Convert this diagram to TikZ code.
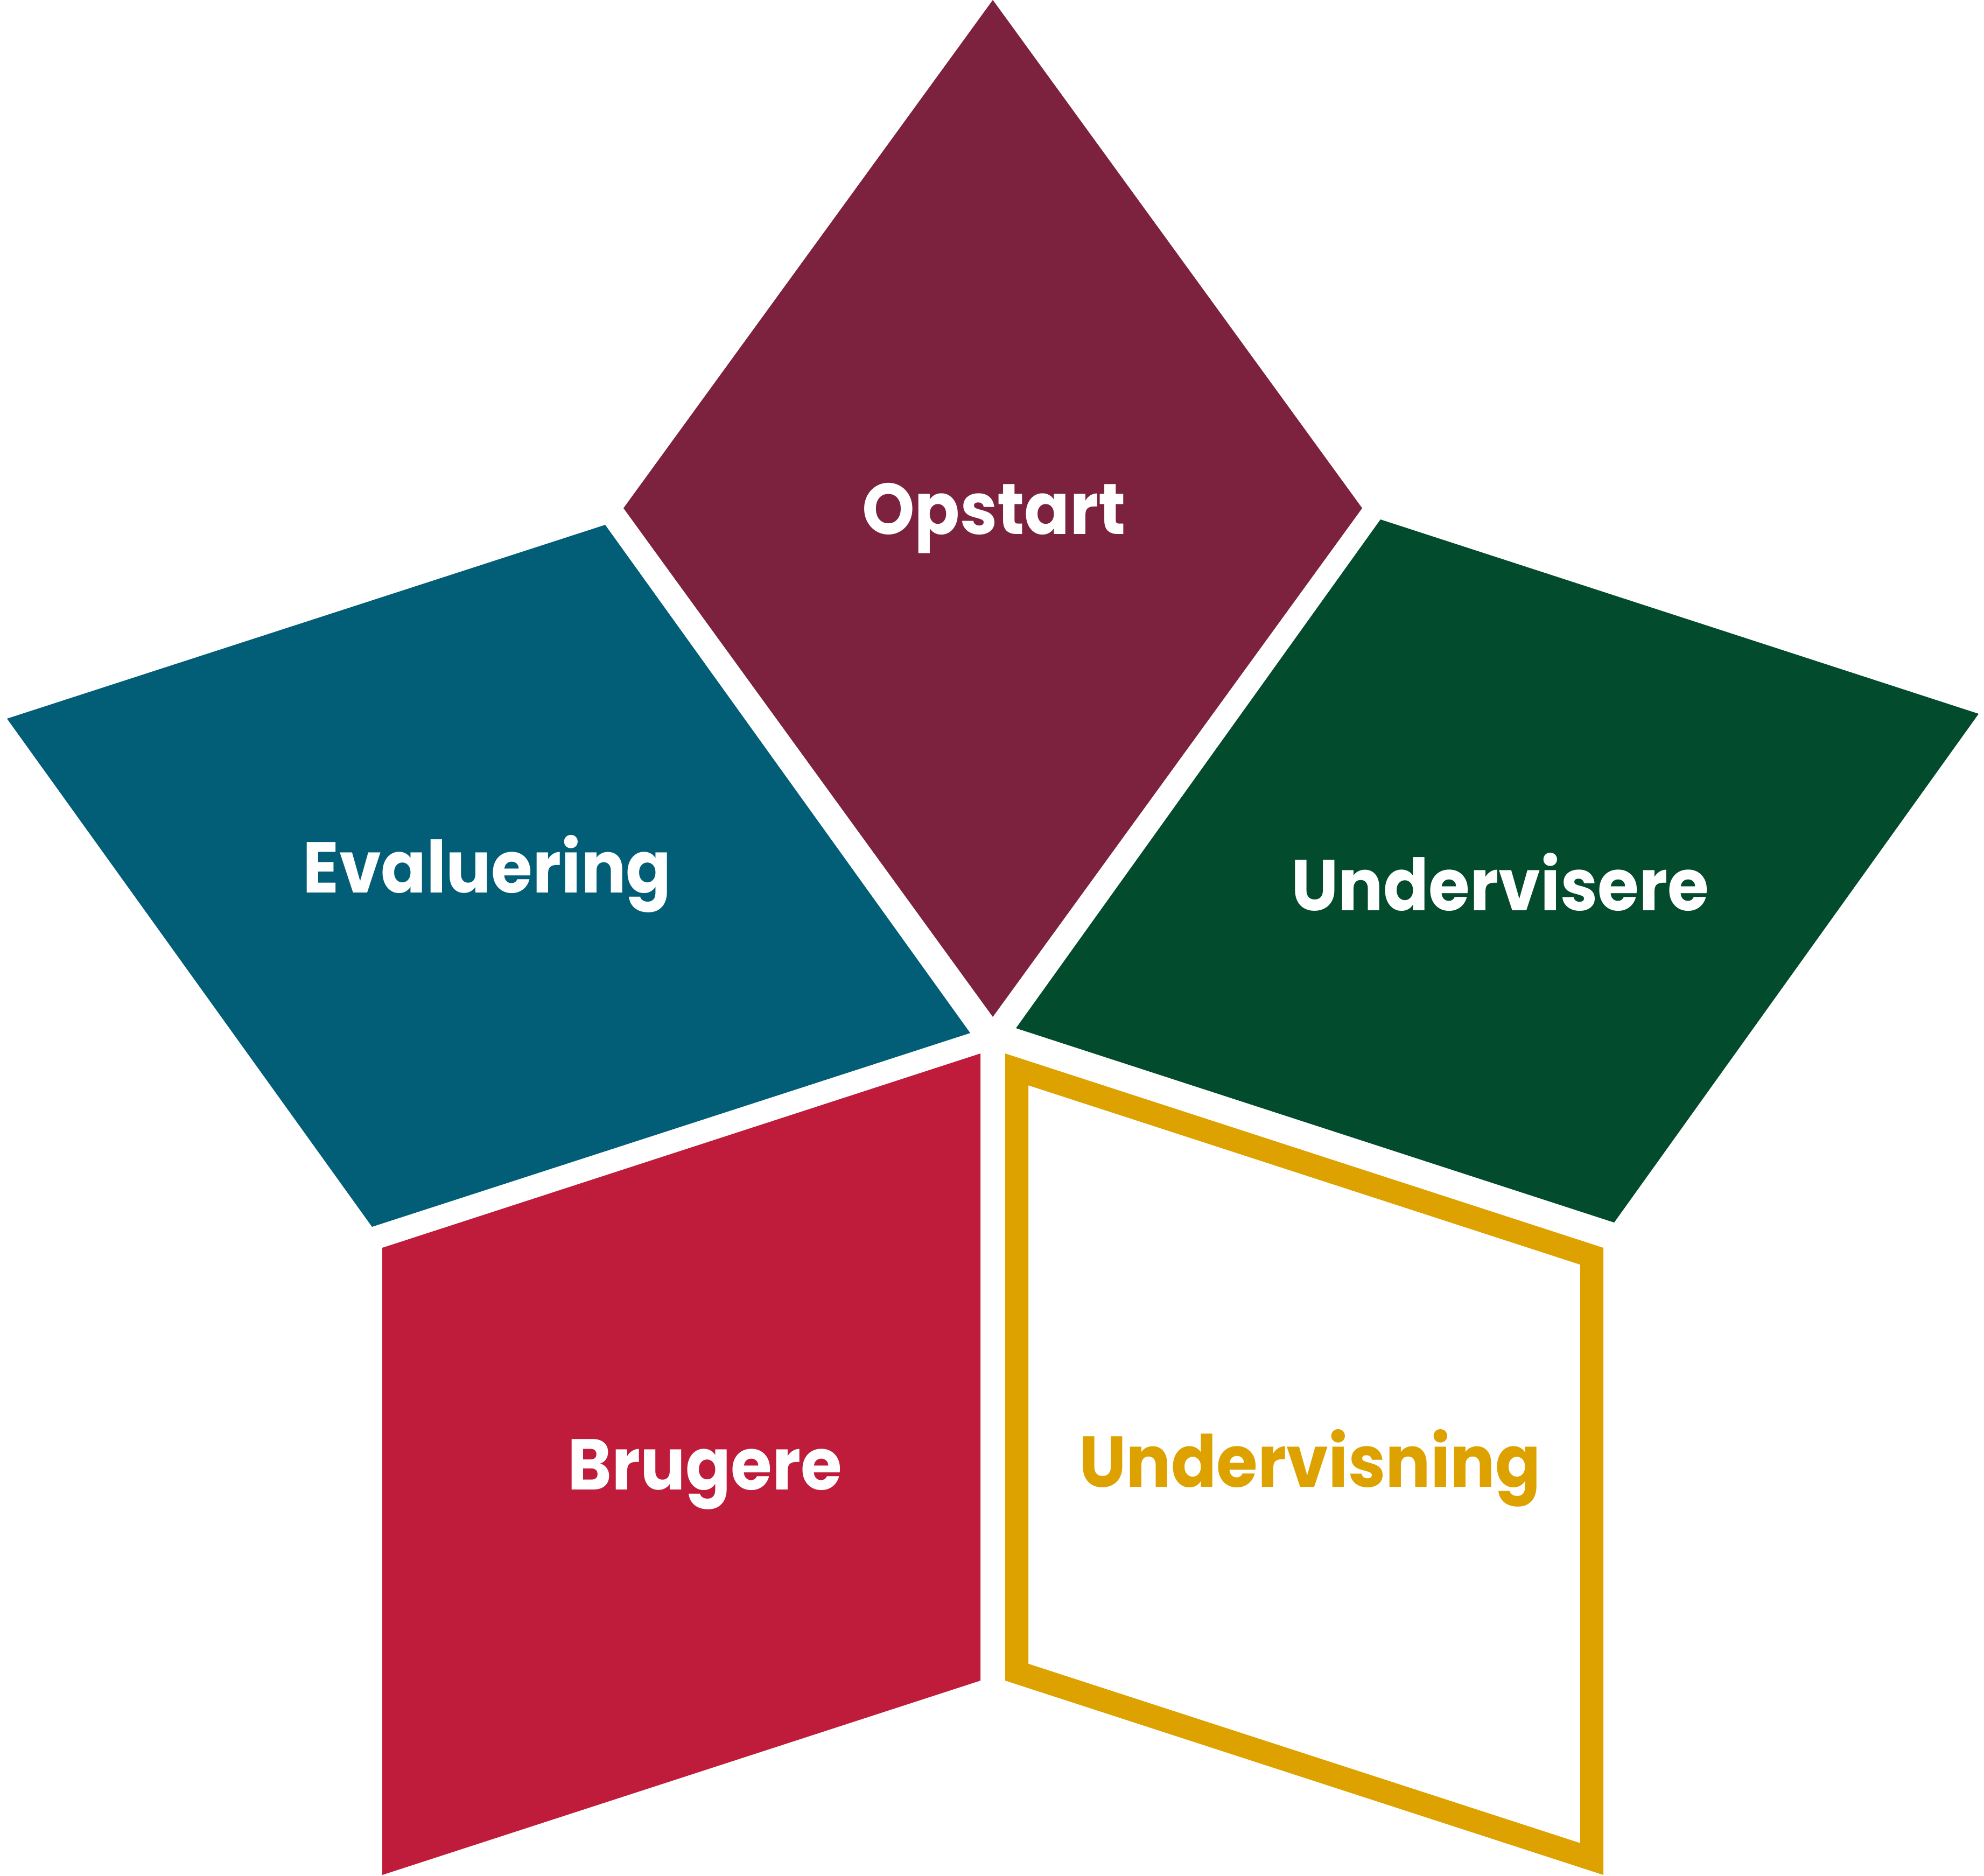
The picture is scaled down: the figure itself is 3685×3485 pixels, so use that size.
\documentclass[tikz,border=0pt]{standalone}
\usepackage{fontspec}
\setmainfont{Poppins}
\definecolor{cMaroon}{RGB}{124,34,62}
\definecolor{cTeal}{RGB}{2,94,119}
\definecolor{cGreen}{RGB}{3,75,45}
\definecolor{cRed}{RGB}{190,28,58}
\definecolor{cGold}{RGB}{221,161,0}
\newcommand{\narrowtxt}[1]{\scalebox{0.93}[1]{#1}}
\tikzset{
  lbl/.style={font=\fontsize{38}{40}\selectfont\bfseries, text=white, inner sep=0pt, anchor=base},
}
\begin{document}
\begin{tikzpicture}[x=0.01cm,y=-0.01cm]
\useasboundingbox (0,0) rectangle (3685,3485);
% Opstart
\fill[cMaroon] (1844,0) -- (2530,944) -- (1844,1889) -- (1158,944) -- cycle;
% Evaluering
\fill[cTeal] (1124,975) -- (1802,1919) -- (691,2279) -- (13,1335) -- cycle;
% Undervisere
\fill[cGreen] (2564,965) -- (3675,1326) -- (2998,2271) -- (1887,1910) -- cycle;
% Brugere
\fill[cRed] (1821,1957) -- (1821,3122) -- (710,3483) -- (710,2318) -- cycle;
% Undervisning (outline inside)
\begin{scope}
\clip (1867,1957) -- (2978,2318) -- (2978,3483) -- (1867,3122) -- cycle;
\draw[cGold, line width=0.86cm, line join=miter] (1867,1957) -- (2978,2318) -- (2978,3483) -- (1867,3122) -- cycle;
\end{scope}
% labels
\node[lbl] (opstart) at (1846,992) {\narrowtxt{Opstart}};
\node[lbl] (evaluering) at (905,1658) {\narrowtxt{Evaluering}};
\node[lbl] (undervisere) at (2786,1691) {\narrowtxt{Undervisere}};
\node[lbl] (brugere) at (1309,2767) {\narrowtxt{Brugere}};
\node[lbl, text=cGold] (undervisning) at (2433,2762) {\narrowtxt{Undervisning}};
\end{tikzpicture}
\end{document}
